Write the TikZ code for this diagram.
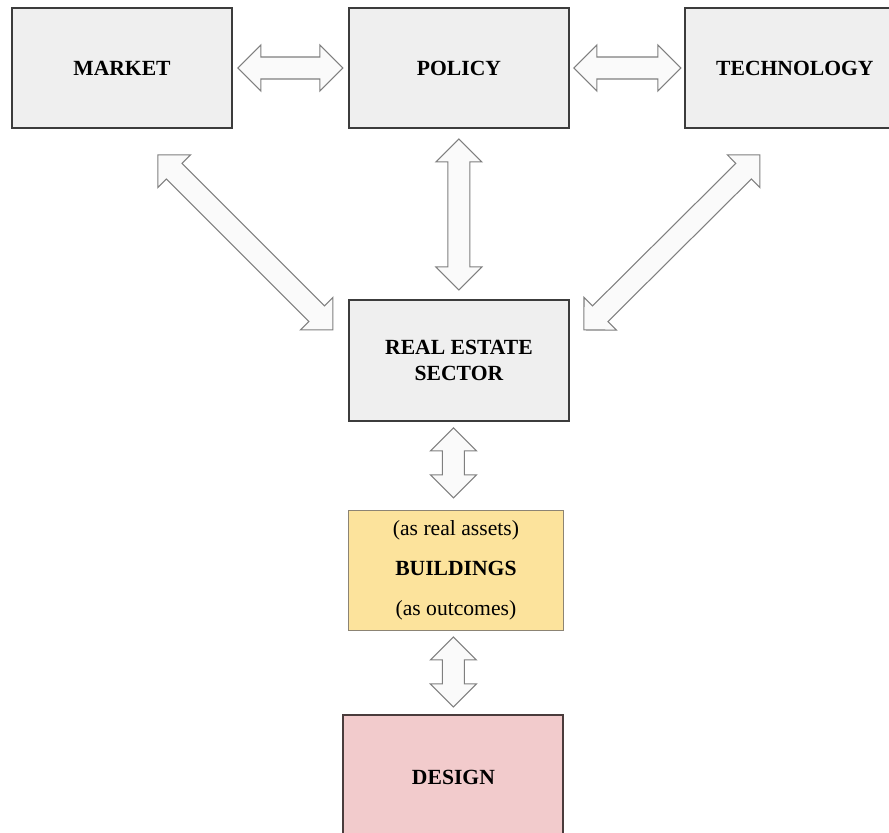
\documentclass[tikz,border=0pt]{standalone}
\usepackage{fontspec}
\setmainfont{Liberation Serif}
\usetikzlibrary{positioning,calc}

\definecolor{boxgray}{HTML}{EFEFEF}
\definecolor{boxline}{HTML}{3C3C3C}
\definecolor{bldfill}{HTML}{FCE39C}
\definecolor{bldline}{HTML}{8C8474}
\definecolor{desfill}{HTML}{F2CBCC}
\definecolor{desline}{HTML}{4A3C3C}
\definecolor{arrline}{HTML}{7F7F7F}

% block arrow with two heads between two named coordinates
\newcommand{\dblarrow}[2]{%
	\coordinate (ha) at ($(#1)!0.46cm!(#2)$);
	\coordinate (hb) at ($(#2)!0.46cm!(#1)$);
	\path [draw=arrline, fill=white!98!black, line width=0.6pt, line join=miter]
		(#1) -- ($(ha)!0.46cm!90:(#2)$) -- ($(ha)!0.22cm!90:(#2)$)
		-- ($(hb)!0.22cm!-90:(#1)$) -- ($(hb)!0.46cm!-90:(#1)$) -- (#2)
		-- ($(hb)!0.46cm!90:(#1)$) -- ($(hb)!0.22cm!90:(#1)$)
		-- ($(ha)!0.22cm!-90:(#2)$) -- ($(ha)!0.46cm!-90:(#2)$) -- cycle;
}

\begin{document}
\begin{tikzpicture}[
	box/.style={draw=boxline, line width=1.1pt, fill=boxgray, minimum width=4.4cm,
		minimum height=2.4cm, align=center,
		font=\fontsize{12.3pt}{14.7pt}\selectfont\bfseries}
]
	\useasboundingbox (0,0) rectangle (17.78,-16.66);
	\clip (0,0) rectangle (17.78,-16.66);

	\node[box] (market) at (2.44,-1.36) {MARKET};
	\node[box] (policy) [right=2.3cm of market] {POLICY};
	\node[box] (tech) [right=2.28cm of policy] {TECHNOLOGY};
	\node[box, minimum height=2.42cm] (sector) [below=3.4cm of policy] {REAL ESTATE\\SECTOR};
	\node[box, draw=bldline, line width=0.6pt, fill=bldfill, minimum width=4.3cm,
		font=\fontsize{12.3pt}{22.7pt}\selectfont] (bld)
		[below=1.76cm of sector, xshift=-0.06cm]
		{(as real assets)\\\textbf{BUILDINGS}\\(as outcomes)};
	\node[box, draw=desline, fill=desfill, minimum height=2.5cm] (design)
		[below=1.66cm of bld, xshift=-0.05cm] {DESIGN};

	\coordinate (mp1) at ([xshift=0.1cm]market.east);
	\coordinate (mp2) at ([xshift=-0.1cm]policy.west);
	\coordinate (pt1) at ([xshift=0.08cm]policy.east);
	\coordinate (pt2) at ([xshift=-0.06cm]tech.west);
	\coordinate (ps1) at ([yshift=-0.2cm]policy.south);
	\coordinate (ps2) at ([yshift=0.18cm]sector.north);
	\coordinate (ms1) at ($(market.south east)+(-1.5,-0.52)$);
	\coordinate (ms2) at ($(sector.north west)+(-0.3,-0.62)$);
	\coordinate (ts1) at ($(tech.south west)+(1.52,-0.52)$);
	\coordinate (ts2) at ($(sector.north east)+(0.28,-0.62)$);
	\coordinate (sb1) at ($(bld.north)+(-0.05,1.64)$);
	\coordinate (sb2) at ($(bld.north)+(-0.05,0.24)$);
	\coordinate (bd1) at ($(design.north)+(0,1.54)$);
	\coordinate (bd2) at ($(design.north)+(0,0.14)$);

	\dblarrow{mp1}{mp2}
	\dblarrow{pt1}{pt2}
	\dblarrow{ps1}{ps2}
	\dblarrow{ms1}{ms2}
	\dblarrow{ts1}{ts2}
	\dblarrow{sb1}{sb2}
	\dblarrow{bd1}{bd2}
\end{tikzpicture}
\end{document}
